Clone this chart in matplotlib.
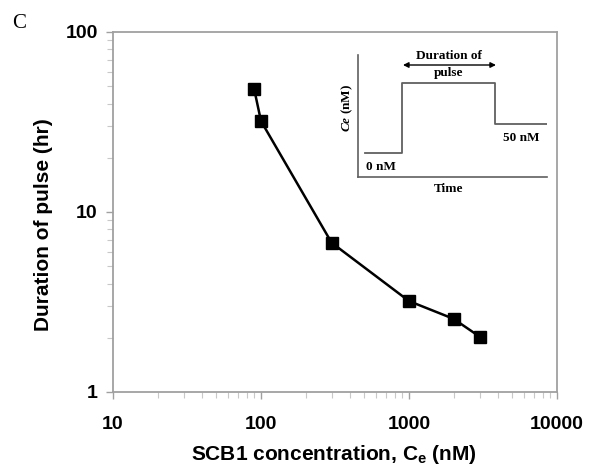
import matplotlib
matplotlib.use("Agg")
import matplotlib.pyplot as plt
from matplotlib.ticker import LogLocator, NullFormatter, FixedLocator, FixedFormatter

plt.rcParams["mathtext.fontset"] = "custom"
plt.rcParams["mathtext.bf"] = "Liberation Sans:weight=bold"
plt.rcParams["mathtext.rm"] = "Liberation Sans:weight=bold"
plt.rcParams["mathtext.it"] = "Liberation Serif:style=italic:weight=bold"

# Data
conc_nM = [90, 100, 300, 1000, 2000, 3000]
duration_hr = [48, 32, 6.75, 3.2, 2.55, 2.03]
x_ticks = [10, 100, 1000, 10000]
x_tick_labels = ["10", "100", "1000", "10000"]
y_ticks = [1, 10, 100]
y_tick_labels = ["1", "10", "100"]

# Inset schematic (step pulse)
pulse_t = [0.037, 0.233, 0.233, 0.725, 0.725, 1.0]
pulse_c = [0.197, 0.197, 0.770, 0.770, 0.434, 0.434]

W, H = 589, 472
fig = plt.figure(figsize=(W / 100, H / 100), dpi=100)
sans = ["Liberation Sans", "DejaVu Sans"]
serif = ["Liberation Serif", "DejaVu Serif"]

L, R, T, B = 113, 557, 32, 392
ax = fig.add_axes([L / W, 1 - B / H, (R - L) / W, (B - T) / H])
ax.set_xscale("log")
ax.set_yscale("log")
ax.set_xlim(10, 10000)
ax.set_ylim(1, 100)

ax.plot(conc_nM, duration_hr, color="black", lw=1.8, marker="s", ms=8,
        markerfacecolor="black", markeredgecolor="black", zorder=3)

spine_c = "#a0a0a0"
for s in ax.spines.values():
    s.set_color(spine_c)
    s.set_linewidth(1.3)

ax.xaxis.set_major_locator(FixedLocator(x_ticks))
ax.xaxis.set_major_formatter(FixedFormatter(x_tick_labels))
ax.yaxis.set_major_locator(FixedLocator(y_ticks))
ax.yaxis.set_major_formatter(FixedFormatter(y_tick_labels))
ax.xaxis.set_minor_locator(LogLocator(base=10, subs=range(2, 10)))
ax.yaxis.set_minor_locator(LogLocator(base=10, subs=range(2, 10)))
ax.xaxis.set_minor_formatter(NullFormatter())
ax.yaxis.set_minor_formatter(NullFormatter())
ax.tick_params(which="major", direction="out", length=5, width=1.0, color=spine_c,
               top=False, right=False)
ax.tick_params(which="minor", direction="out", length=4, width=0.8, color="#c8c8c8",
               top=False, right=False)
ax.tick_params(axis="x", which="major", pad=12)
ax.tick_params(axis="y", which="major", pad=6)
for lab in ax.get_xticklabels() + ax.get_yticklabels():
    lab.set_fontfamily(sans)
    lab.set_fontweight("bold")
    lab.set_fontsize(14)

fig.text(334 / W, 1 - 455 / H, "SCB1 concentration, C$_\\mathbf{e}$ (nM)", fontfamily=sans,
         fontweight="bold", fontsize=15, ha="center", va="center")
fig.text(43.5 / W, 1 - 225 / H, "Duration of pulse (hr)", fontfamily=sans,
         fontweight="bold", fontsize=15, ha="center", va="center", rotation=90)

fig.text(12 / W, 1 - 23 / H, "C", fontfamily=serif, fontsize=15, va="center", ha="left")

# Inset
iL, iR, iT, iB = 358, 547, 55, 177
ins = fig.add_axes([iL / W, 1 - iB / H, (iR - iL) / W, (iB - iT) / H])
ins.set_xlim(0, 1)
ins.set_ylim(0, 1)
ins.patch.set_alpha(0)
for k in ["top", "right"]:
    ins.spines[k].set_visible(False)
for k in ["left", "bottom"]:
    ins.spines[k].set_color("#606060")
    ins.spines[k].set_linewidth(1.2)
ins.set_xticks([])
ins.set_yticks([])
ins.plot(pulse_t, pulse_c, color="#606060", lw=1.3)
ins.annotate("", xy=(0.73, 0.918), xytext=(0.238, 0.918),
             arrowprops=dict(arrowstyle="<|-|>", color="black", lw=1.0,
                             mutation_scale=8, shrinkA=0, shrinkB=0))
ins.text(0.48, 0.99, "Duration of", ha="center", va="center", fontfamily=serif,
         fontweight="bold", fontsize=9.5)
ins.text(0.48, 0.855, "pulse", ha="center", va="center", fontfamily=serif,
         fontweight="bold", fontsize=9.5)
ins.text(0.04, 0.08, "0 nM", ha="left", va="center", fontfamily=serif,
         fontweight="bold", fontsize=9.5)
ins.text(0.765, 0.32, "50 nM", ha="left", va="center", fontfamily=serif,
         fontweight="bold", fontsize=9.5)
ins.text(0.48, -0.10, "Time", ha="center", va="center", fontfamily=serif,
         fontweight="bold", fontsize=9.5)
ins.text(-0.055, 0.57, "$Ce$ (nM)", ha="center", va="center", rotation=90,
         fontfamily=serif, fontweight="bold", fontsize=9.5)

fig.savefig("out.png", dpi=100)
